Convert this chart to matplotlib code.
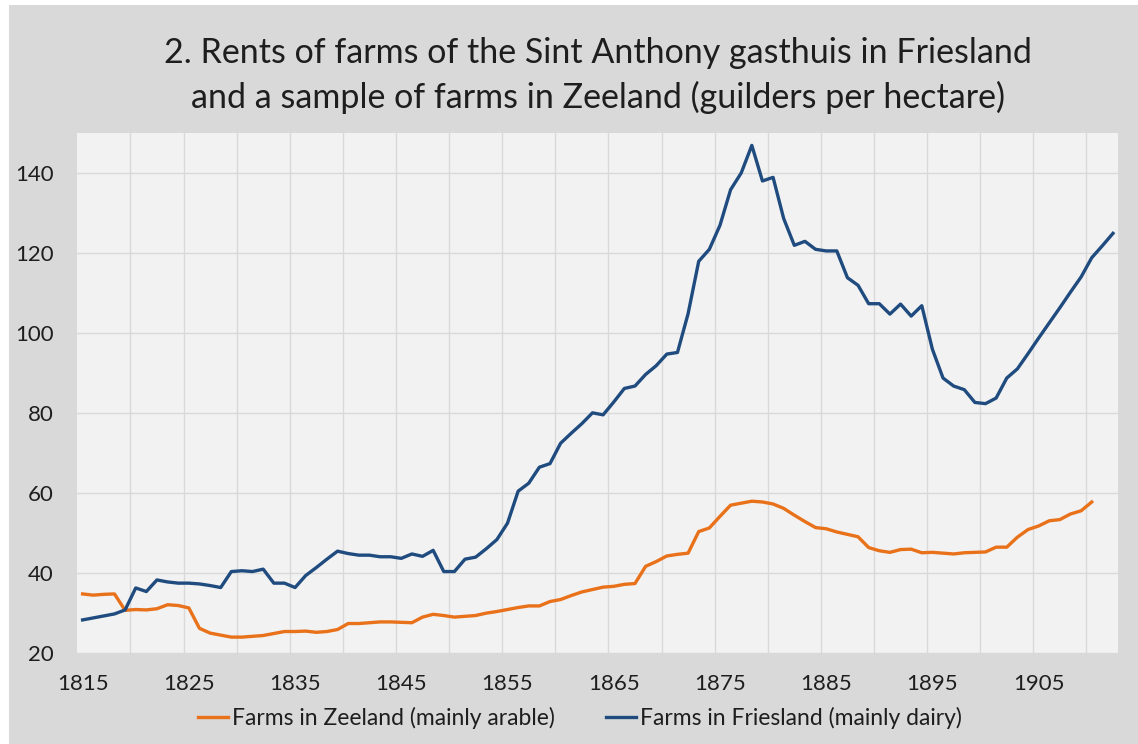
import numpy as np
import matplotlib
matplotlib.use("Agg")
import matplotlib.pyplot as plt
from matplotlib.patches import Rectangle

plt.rcParams['font.family'] = ['Lato', 'DejaVu Sans']

# rents, guilders per hectare
years_friesland = list(range(1815, 1913))
friesland = [
    28.2, 28.7, 29.2, 29.7, 30.7,                # 1815-1819
    36.2, 35.3, 38.2, 37.7, 37.4, 37.4, 37.2, 36.8, 36.3, 40.3,   # 1820-1829
    40.5, 40.3, 40.9, 37.4, 37.4, 36.3, 39.3, 41.3, 43.4, 45.4,   # 1830-1839
    44.8, 44.4, 44.4, 44.0, 44.0, 43.6, 44.7, 44.1, 45.6, 40.3,   # 1840-1849
    40.3, 43.4, 43.9, 46.0, 48.3, 52.4, 60.4, 62.4, 66.4, 67.3,   # 1850-1859
    72.4, 74.9, 77.3, 80.0, 79.5, 82.7, 86.1, 86.7, 89.6, 91.8,   # 1860-1869
    94.7, 95.1, 104.8, 117.9, 120.9, 126.9, 135.8, 140.0, 146.9, 138.0,  # 1870-1879
    138.9, 128.6, 121.9, 122.9, 120.9, 120.5, 120.5, 113.8, 111.9, 107.3,  # 1880-1889
    107.3, 104.7, 107.2, 104.2, 106.8, 95.9, 88.7, 86.7, 85.8, 82.6,  # 1890-1899
    82.3, 83.7, 88.7, 91.0, 94.8, 98.7, 102.5, 106.3, 110.2, 114.0,  # 1900-1909
    118.8, 121.8, 124.9,                          # 1910-1912
]

years_zeeland = list(range(1815, 1911))
zeeland = [
    34.7, 34.4, 34.6, 34.7, 30.6,                # 1815-1819
    30.8, 30.7, 31.0, 32.0, 31.8, 31.2, 26.1, 24.9, 24.4, 23.9,   # 1820-1829
    23.9, 24.1, 24.3, 24.8, 25.3, 25.3, 25.4, 25.1, 25.3, 25.8,   # 1830-1839
    27.3, 27.3, 27.5, 27.7, 27.7, 27.6, 27.5, 28.9, 29.6, 29.3,   # 1840-1849
    28.9, 29.1, 29.3, 29.9, 30.3, 30.8, 31.3, 31.7, 31.7, 32.8,   # 1850-1859
    33.3, 34.3, 35.2, 35.8, 36.4, 36.6, 37.1, 37.3, 41.6, 42.8,   # 1860-1869
    44.2, 44.6, 44.9, 50.3, 51.2, 54.1, 56.9, 57.4, 57.9, 57.7,   # 1870-1879
    57.2, 56.1, 54.4, 52.8, 51.3, 51.0, 50.2, 49.6, 49.0, 46.3,   # 1880-1889
    45.5, 45.1, 45.8, 45.9, 45.0, 45.1, 44.9, 44.7, 45.0, 45.1,   # 1890-1899
    45.2, 46.4, 46.4, 48.9, 50.8, 51.7, 53.0, 53.3, 54.7, 55.5,   # 1900-1909
    57.7,                                         # 1910
]

year_labels = list(range(1815, 1915, 10))
y_ticks = list(range(20, 160, 20))

text_col = '#1e1e1e'
fig = plt.figure(figsize=(11.38, 7.44), dpi=100)
fig.patch.set_facecolor('white')
fig.patches.append(Rectangle((9 / 1138, 0), 1, 1 - 5 / 744, transform=fig.transFigure,
                             facecolor='#d9d9d9', edgecolor='none', zorder=-10))

ax = fig.add_axes([77.3 / 1138, 1 - 652.7 / 744, (1118.3 - 77.3) / 1138, (652.7 - 133) / 744])
ax.set_facecolor('#f2f2f2')

ax.plot(years_zeeland, zeeland, color='#e8711a', lw=2.4, zorder=3,
        solid_joinstyle='round', label='Farms in Zeeland (mainly arable)')
ax.plot(years_friesland, friesland, color='#1f4b7f', lw=2.4, zorder=4,
        solid_joinstyle='round', label='Farms in Friesland (mainly dairy)')

ax.set_xlim(1814.5, 1912.5)
ax.set_ylim(20, 150)
ax.set_xticks(year_labels)
ax.set_xticks(np.arange(1819.5, 1912, 5), minor=True)
ax.set_yticks(y_ticks)
ax.tick_params(which='both', length=0)
ax.tick_params(axis='x', pad=15, labelsize=16, colors=text_col)
ax.tick_params(axis='y', pad=17, labelsize=16, colors=text_col)
ax.grid(which='minor', axis='x', color='#d9d9d9', lw=1.0, zorder=0)
ax.grid(which='major', axis='y', color='#d9d9d9', lw=1.0, zorder=0)
ax.grid(which='major', axis='x', visible=False)
ax.set_axisbelow(True)
for s in ax.spines.values():
    s.set_visible(False)

fig.text(598 / 1138, 1 - 62.7 / 744, '2. Rents of farms of the Sint Anthony gasthuis in Friesland',
         ha='center', va='baseline', fontsize=24.5, color=text_col)
fig.text(598 / 1138, 1 - 108 / 744, 'and a sample of farms in Zeeland (guilders per hectare)',
         ha='center', va='baseline', fontsize=24.5, color=text_col)

fig.legend(loc='center', bbox_to_anchor=(580 / 1138, 1 - 718 / 744), ncol=2, frameon=False,
           fontsize=16.5, handlelength=1.3, handletextpad=0.2, columnspacing=2.2,
           labelcolor=text_col, borderaxespad=0)

fig.savefig('out.png', dpi=100, facecolor=fig.get_facecolor())
